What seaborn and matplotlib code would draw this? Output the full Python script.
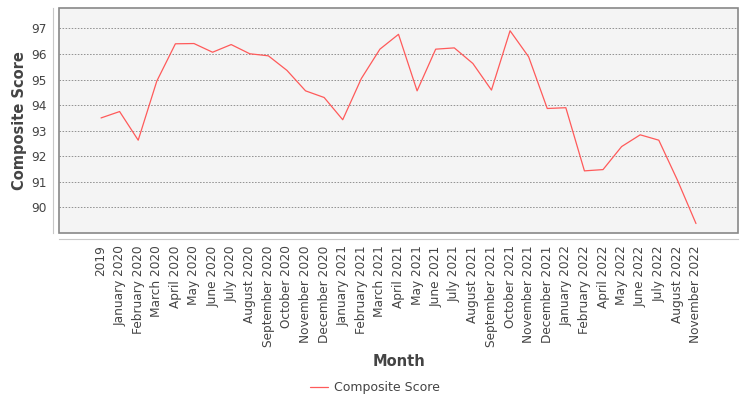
import pandas as pd
import matplotlib
matplotlib.use("Agg")
import matplotlib.pyplot as plt
import matplotlib.patches as mpatches
import seaborn as sns

# chart data
months = ["2019", "January 2020", "February 2020", "March 2020", "April 2020",
          "May 2020", "June 2020", "July 2020", "August 2020", "September 2020",
          "October 2020", "November 2020", "December 2020", "January 2021",
          "February 2021", "March 2021", "April 2021", "May 2021", "June 2021",
          "July 2021", "August 2021", "September 2021", "October 2021",
          "November 2021", "December 2021", "January 2022", "February 2022",
          "April 2022", "May 2022", "June 2022", "July 2022", "August 2022",
          "November 2022"]
scores = [93.50, 93.75, 92.63, 94.94, 96.40, 96.41, 96.07, 96.37, 96.01, 95.93,
          95.36, 94.56, 94.30, 93.43, 95.04, 96.19, 96.77, 94.56, 96.19, 96.24,
          95.63, 94.59, 96.91, 95.89, 93.87, 93.90, 91.43, 91.48, 92.38, 92.84,
          92.63, 91.07, 89.37]
y_ticks = [90, 91, 92, 93, 94, 95, 96, 97]

df = pd.DataFrame({"Month": months, "Composite Score": scores})

sns.set_style("white")
plt.rcParams['font.family'] = ['DejaVu Sans']

fig = plt.figure(figsize=(7.5, 4), dpi=100)
ax = fig.add_axes([59 / 750, 1 - 233 / 400, (738 - 59) / 750, (233 - 8) / 400])
ax.set_facecolor("#f4f4f4")

sns.lineplot(data=df, x="Month", y="Composite Score", sort=False, ax=ax,
             color="#ff5a5a", linewidth=0.9, label="Composite Score")

ax.set_xlim(-2.26, len(months) - 1 + 2.26)
ax.set_ylim(89.0, 97.8)
ax.set_yticks(y_ticks)
ax.set_xticks(range(len(months)))
ax.set_xticklabels(months)
ax.grid(axis="y", color="#777777", linestyle=(0, (2, 2)), linewidth=0.55)
ax.set_axisbelow(True)

# axis lines offset from the plot frame
for s in ["top", "right"]:
    ax.spines[s].set_visible(False)
for s in ["left", "bottom"]:
    ax.spines[s].set_position(("outward", 4))
    ax.spines[s].set_color("#c8c8c8")
    ax.spines[s].set_linewidth(0.8)
ax.add_patch(mpatches.Rectangle((0, 0), 1, 1, transform=ax.transAxes, fill=False,
                                edgecolor="#888888", linewidth=1.2, clip_on=False,
                                zorder=5))

ax.tick_params(axis="both", colors="#c8c8c8", labelcolor="#444444", labelsize=8.7,
               length=3, width=0.8, direction="out", pad=2)
ax.tick_params(axis="x", labelrotation=90)
ax.set_xlabel("Month", fontsize=10.5, fontweight="bold", color="#444444", labelpad=5)
ax.set_ylabel("Composite Score", fontsize=10.5, fontweight="bold", color="#444444",
              labelpad=3)

leg = ax.legend(loc="center", bbox_to_anchor=(0.5, (400 - 388) / 400),
                bbox_transform=fig.transFigure, frameon=False, fontsize=9,
                handlelength=1.4, handletextpad=0.5)
for t in leg.get_texts():
    t.set_color("#444444")

fig.savefig("out.png", dpi=100)
